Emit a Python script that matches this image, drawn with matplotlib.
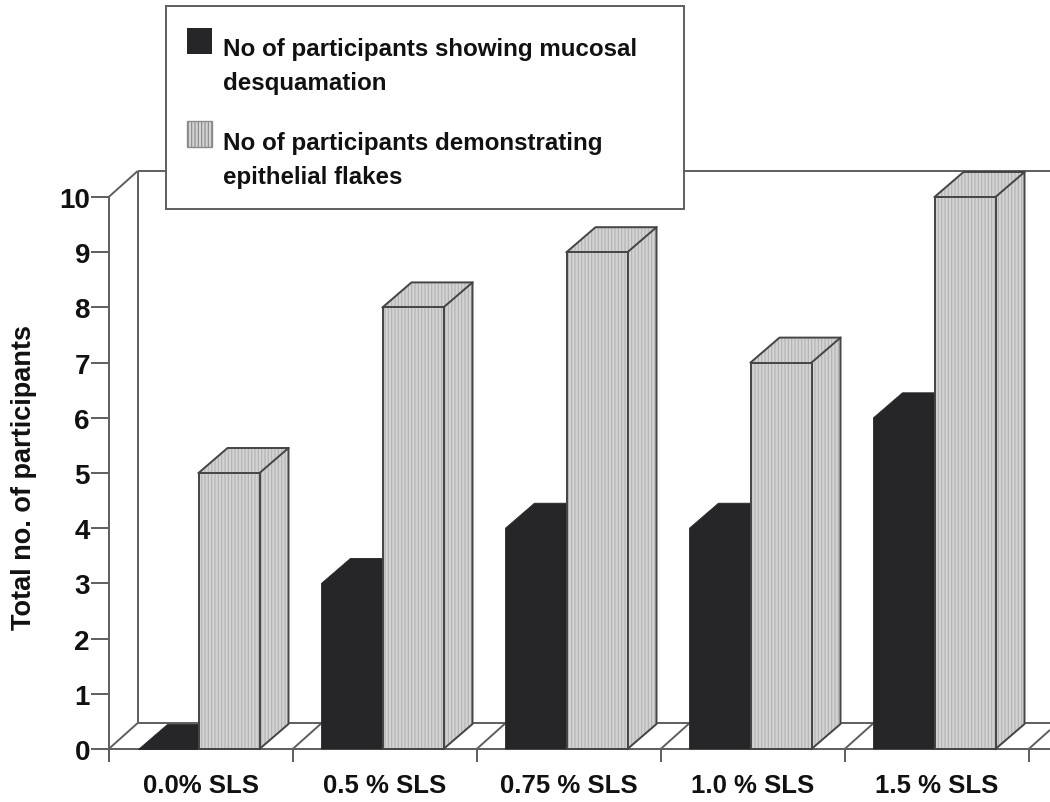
import matplotlib
matplotlib.use("Agg")
import matplotlib.pyplot as plt
from matplotlib.patches import Rectangle
from matplotlib.transforms import Affine2D

categories = ["0.0% SLS", "0.5 % SLS", "0.75 % SLS", "1.0 % SLS", "1.5 % SLS"]
desquamation = [0, 3, 4, 4, 6]
flakes = [5, 8, 9, 7, 10]
y_ticks = list(range(0, 11))
legend_dark = "No of participants showing mucosal\ndesquamation"
legend_light = "No of participants demonstrating\nepithelial flakes"
y_label = "Total no. of participants"

W, H = 1050, 803
DARK, LIGHT, HATCH, LINE, TEXT = "#262628", "#d3d3d3", "#b2b2b2", "#5e5e5e", "#111111"
plt.rcParams["font.family"] = ["Liberation Sans", "DejaVu Sans"]
plt.rcParams["font.weight"] = "bold"
plt.rcParams["hatch.linewidth"] = 0.8

fig = plt.figure(figsize=(W / 100, H / 100), dpi=100, facecolor="white")
left, right, bottom, top = 108.7, 1028.7, 750, 198
ax = fig.add_axes([left / W, 1 - bottom / H, (right - left) / W, (bottom - top) / H])
ax.set_xlim(-0.5, 4.5)
ax.set_ylim(0, 10)
ax.patch.set_alpha(0)
for s in ax.spines.values():
    s.set_visible(False)

px_x = 5 / (right - left)
px_y = 10 / (bottom - top)
dx = 29 * px_x
dy = 26 * px_y
bar_dy = 25 * px_y
w = 61 * px_x
shift = -2.2 * px_x
xmax = (W - left) * px_x - 0.5
lw = 1.4


def line(xs, ys, z=1):
    ax.plot(xs, ys, color=LINE, lw=lw, clip_on=False, zorder=z, solid_capstyle="butt")


# walls and floor
line([-0.5, -0.5], [-13 * px_y, 10], 1)
line([-0.5, -0.5 + dx], [10, 10 + dy])
line([-0.5 + dx, xmax], [10 + dy, 10 + dy])
line([-0.5 + dx, -0.5 + dx], [dy, 10 + dy])
line([-0.5 + dx, xmax], [dy, dy])
line([-0.5, xmax], [0, 0], 1)
for i in range(len(categories) + 1):
    x0 = i - 0.5
    line([x0, min(x0 + dx, xmax)], [0, dy * min(1, (xmax - x0) / dx)], 1)
    line([x0, x0], [-13 * px_y, 0], 1)

# tick marks and labels
ax.set_yticks(y_ticks)
ax.tick_params(axis="y", length=13, width=1.4, color=LINE, labelsize=20, labelcolor=TEXT, pad=0.5)
ax.set_xticks(range(len(categories)))
ax.set_xticklabels(categories, fontsize=18.5, color=TEXT, fontweight="bold")
ax.tick_params(axis="x", length=0, pad=17)
for t in ax.get_yticklabels():
    t.set_fontweight("bold")
fig.text(24 / W, 1 - 477 / H, y_label, rotation=90, ha="center", va="center",
         fontsize=19.5, color=TEXT, fontweight="bold")

# 3D bars
for i, (d, f) in enumerate(zip(desquamation, flakes)):
    x0 = i - w + shift
    ax.fill([x0, x0 + w + dx, x0 + w + dx, x0 + dx, x0], [0, 0, d + bar_dy, d + bar_dy, d],
            facecolor=DARK, edgecolor=DARK, lw=0.6, zorder=3, clip_on=False)
    x1 = i + shift
    ax.fill([x1 + w, x1 + w + dx, x1 + w + dx, x1 + w], [0, bar_dy, f + bar_dy, f],
            facecolor=LIGHT, edgecolor=HATCH, hatch="|||||", lw=0, zorder=4, clip_on=False)
    ax.fill([x1, x1 + w, x1 + w + dx, x1 + dx], [f, f, f + bar_dy, f + bar_dy],
            facecolor=LIGHT, edgecolor=HATCH, hatch="|||||", lw=0, zorder=4, clip_on=False)
    ax.bar(x1, f, width=w, align="edge", facecolor=LIGHT, edgecolor=HATCH, hatch="|||||", lw=0, zorder=5, clip_on=False)
    # outlines
    ax.plot([x1, x1, x1 + w, x1 + w, x1], [0, f, f, 0, 0], color="#444444", lw=lw, zorder=6, clip_on=False)
    ax.plot([x1 + w, x1 + w + dx, x1 + w + dx, x1 + w], [f, f + bar_dy, bar_dy, 0], color="#444444", lw=lw, zorder=6, clip_on=False)
    ax.plot([x1, x1 + dx, x1 + w + dx], [f, f + bar_dy, f + bar_dy], color="#444444", lw=lw, zorder=6, clip_on=False)

# legend box
to_fig = Affine2D().scale(1 / W, -1 / H).translate(0, 1) + fig.transFigure
fig.add_artist(Rectangle((166, 7), 518, 203, transform=to_fig, facecolor="white",
                         edgecolor=LINE, lw=1.4, zorder=10))
fig.add_artist(Rectangle((187, 29), 25, 26, transform=to_fig, facecolor=DARK, edgecolor="none", zorder=11))
fig.add_artist(Rectangle((187, 122), 25, 26, transform=to_fig, facecolor=LIGHT, edgecolor="#8a8a8a",
                         lw=1, hatch="|||||", zorder=11))
for y, txt in [(66.5, legend_dark), (160.5, legend_light)]:
    fig.text(223 / W, 1 - y / H, txt, ha="left", va="center", fontsize=17.4, color=TEXT,
             fontweight="bold", linespacing=1.65, zorder=12)

fig.savefig("out.png", dpi=100, facecolor="white")
